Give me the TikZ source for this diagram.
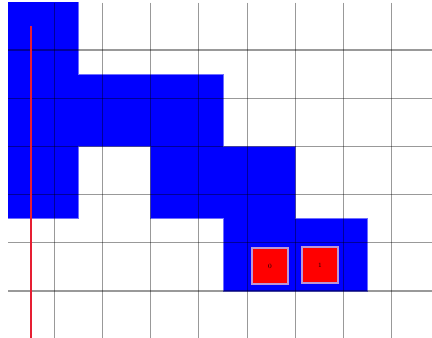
\documentclass[tikz,border=0pt]{standalone}
\definecolor{blockblue}{RGB}{0,0,255}
\definecolor{blockedge}{RGB}{110,110,255}
\definecolor{celledge}{RGB}{185,150,215}
\definecolor{cellred}{RGB}{255,0,0}
\definecolor{lineRed}{RGB}{230,30,50}
\begin{document}
\begin{tikzpicture}[x=1pt,y=-1pt,
  gridline/.style={black,opacity=0.4,line width=1.1pt},
  blockfill/.style={fill=blockblue,draw=blockedge,line width=0.6pt},
  cellbox/.style={draw=celledge,line width=1.6pt,fill=cellred,minimum size=36.5pt,inner sep=0pt,font=\fontsize{6.5}{7}\selectfont,text=black},
  redmarkline/.style={draw=lineRed,line width=1.3pt}]
\useasboundingbox (0,0) rectangle (432,338);
\fill[white] (0,0) rectangle (432,338);
\begin{scope}
\clip (8,2.7) rectangle (432,338);
% blue region
\path[blockfill] (6.1,-5) -- (78.4,-5) -- (78.4,74.1) -- (223,74.1) -- (223,146.4) -- (295.3,146.4) -- (295.3,218.7) -- (367.6,218.7) -- (367.6,291) -- (223,291) -- (223,218.7) -- (150.7,218.7) -- (150.7,146.4) -- (78.4,146.4) -- (78.4,218.7) -- (6.1,218.7) -- cycle;
% grid
\foreach \i in {1,...,8} {
  \draw[gridline] ({6.1+48.2*\i},2.7) -- ({6.1+48.2*\i},340);
}
\foreach \j in {1,...,6} {
  \draw[gridline] (8,{1.8+48.2*\j}) -- (434,{1.8+48.2*\j});
}
\end{scope}
% red cells
\node[cellbox] (c0) at (270,266) {0};
\node[cellbox] (c1) at (320,265) {1};
% red marker line
\coordinate (mtop) at (31,26);
\coordinate (mbot) at (31,338);
\draw[redmarkline] (mtop) -- (mbot);
\end{tikzpicture}
\end{document}
